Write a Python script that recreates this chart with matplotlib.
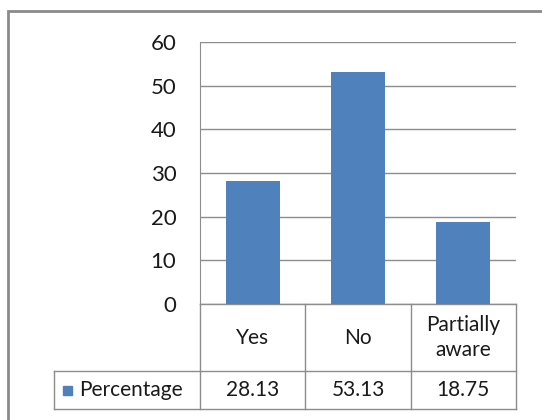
import matplotlib.pyplot as plt
from matplotlib.patches import Rectangle
from matplotlib.lines import Line2D

categories = ['Yes', 'No', 'Partially\naware']
values = [28.13, 53.13, 18.75]
value_labels = ['28.13', '53.13', '18.75']
series_name = 'Percentage'
yticks = [0, 10, 20, 30, 40, 50, 60]

plt.rcParams['font.family'] = ['Lato', 'DejaVu Sans']

fig = plt.figure(figsize=(5.42, 4.2), dpi=100)
W, H = 542, 420
# plot area in pixels: x 200-516, y 42-304
ax = fig.add_axes([200 / W, (H - 304) / H, 316 / W, 262 / H])

x = range(len(categories))
ax.bar(x, values, width=0.51, color='#4F81BD', zorder=3)
ax.set_xlim(-0.5, len(categories) - 0.5)
ax.set_ylim(0, 60)
ax.set_yticks(yticks)
ax.set_yticklabels([str(t) for t in yticks], fontsize=16, color='#1a1a1a')
ax.tick_params(axis='y', length=0, pad=17)
ax.set_xticks([])
ax.grid(axis='y', color='#8c8c8c', linewidth=1, zorder=0)
for s in ['top', 'right', 'bottom']:
    ax.spines[s].set_visible(False)
ax.spines['left'].set_color('#8c8c8c')

# data table under the chart
gc = '#8c8c8c'
tr = ax.get_xaxis_transform()
ta = ax.transAxes
row1 = -67 / 262
row2 = -105 / 262
leg_left = (54 - 200) / 316
n = len(categories)

ax.add_line(Line2D([-0.5, n - 0.5], [0, 0], transform=tr, color=gc, lw=1, clip_on=False))
for yy in [row1, row2]:
    ax.add_line(Line2D([leg_left, 1], [yy, yy], transform=ta, color=gc, lw=1, clip_on=False))
ax.add_line(Line2D([leg_left, leg_left], [row1, row2], transform=ta, color=gc, lw=1, clip_on=False))
for i in range(n + 1):
    ax.add_line(Line2D([i - 0.5, i - 0.5], [0, row2], transform=tr,
                       color=gc, lw=1, clip_on=False))

for i, (c, v) in enumerate(zip(categories, value_labels)):
    ax.text(i, row1 / 2, c, transform=tr, ha='center', va='center',
            fontsize=15, color='#1a1a1a', linespacing=1.3)
    ax.text(i, (row1 + row2) / 2, v, transform=tr, ha='center', va='center',
            fontsize=15, color='#1a1a1a')

ax.add_patch(Rectangle((leg_left + 9 / 316, (row1 + row2) / 2 - 5 / 262), 9 / 316, 9 / 262,
                       transform=ta, color='#4F81BD', clip_on=False))
ax.text(leg_left + 25 / 316, (row1 + row2) / 2, series_name, transform=ta,
        ha='left', va='center', fontsize=15, color='#1a1a1a')

# outer chart frame
fig.add_artist(Rectangle((8 / W, -0.1), 1.2, (H - 11) / H + 0.1, transform=fig.transFigure,
                         fill=False, edgecolor='#8a8a8a', lw=2))

fig.savefig('out.png', dpi=100)
